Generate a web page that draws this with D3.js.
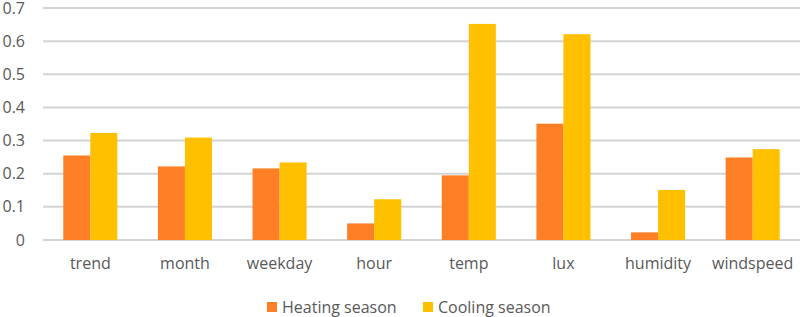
<!DOCTYPE html>
<html>
<head>
<meta charset="utf-8">
<script src="https://cdn.jsdelivr.net/npm/d3@7/dist/d3.min.js"></script>
<style>
  body { margin: 0; background: #fff; }
  text { font-family: "Open Sans", sans-serif; fill: #595959; }
</style>
</head>
<body>
<svg width="803" height="317"></svg>
<script>
const categories = ['trend', 'month', 'weekday', 'hour', 'temp', 'lux', 'humidity', 'windspeed'];
const heating = [0.255, 0.222, 0.216, 0.050, 0.195, 0.351, 0.023, 0.249];
const cooling = [0.323, 0.309, 0.234, 0.123, 0.652, 0.621, 0.151, 0.274];
const seriesNames = ['Heating season', 'Cooling season'];
const colors = ['#FE7F25', '#FFC000'];
const yTicks = [0, 0.1, 0.2, 0.3, 0.4, 0.5, 0.6, 0.7];

const svg = d3.select('svg');

const margin = { top: 8, right: 3, bottom: 77, left: 43 };
const width = +svg.attr('width');
const height = +svg.attr('height');
const innerWidth = width - margin.left - margin.right;
const innerHeight = height - margin.top - margin.bottom;

const data = categories.map((c, i) => ({ cat: c, values: [heating[i], cooling[i]] }));

const xScale = d3.scaleBand()
  .domain(categories)
  .range([0, innerWidth]);

const xInner = d3.scaleBand()
  .domain([0, 1])
  .range([0, xScale.bandwidth()])
  .paddingOuter(0.75);

const yScale = d3.scaleLinear()
  .domain([0, 0.7])
  .range([innerHeight, 0]);

const g = svg.append('g')
  .attr('transform', `translate(${margin.left}, ${margin.top})`);

// gridlines
g.selectAll('line.grid').data(yTicks)
  .enter().append('line')
  .attr('class', 'grid')
  .attr('x1', 0)
  .attr('x2', innerWidth)
  .attr('y1', d => yScale(d))
  .attr('y2', d => yScale(d))
  .attr('stroke', '#d4d4d4')
  .attr('stroke-width', 2);

// y labels
const yAxis = g.append('g')
  .call(d3.axisLeft(yScale).tickValues(yTicks).tickSize(0).tickPadding(18)
    .tickFormat(d => d === 0 ? '0' : d3.format('.1f')(d)));
yAxis.select('.domain').remove();
yAxis.selectAll('text').style('font-size', '16px').attr('fill', '#595959');

// bars
const groups = g.selectAll('g.cat').data(data)
  .enter().append('g')
  .attr('class', 'cat')
  .attr('transform', d => `translate(${xScale(d.cat)}, 0)`);

groups.selectAll('rect').data(d => d.values)
  .enter().append('rect')
  .attr('x', (d, i) => xInner(i))
  .attr('y', d => yScale(d))
  .attr('width', xInner.bandwidth())
  .attr('height', d => innerHeight - yScale(d))
  .attr('fill', (d, i) => colors[i]);

// x labels
const xAxis = g.append('g')
  .attr('transform', `translate(0, ${innerHeight})`)
  .call(d3.axisBottom(xScale).tickSize(0).tickPadding(18));
xAxis.select('.domain').remove();
xAxis.selectAll('text').style('font-size', '16px').attr('fill', '#595959');

// legend
const legend = svg.append('g').attr('transform', 'translate(267, 307)');
const items = legend.selectAll('g').data(seriesNames)
  .enter().append('g')
  .attr('transform', (d, i) => `translate(${i * 156}, 0)`);
items.append('rect')
  .attr('x', 0).attr('y', -5)
  .attr('width', 10).attr('height', 10)
  .attr('fill', (d, i) => colors[i]);
items.append('text')
  .attr('x', 15)
  .attr('dy', '0.35em')
  .style('font-size', '16px')
  .text(d => d);
</script>
</body>
</html>
